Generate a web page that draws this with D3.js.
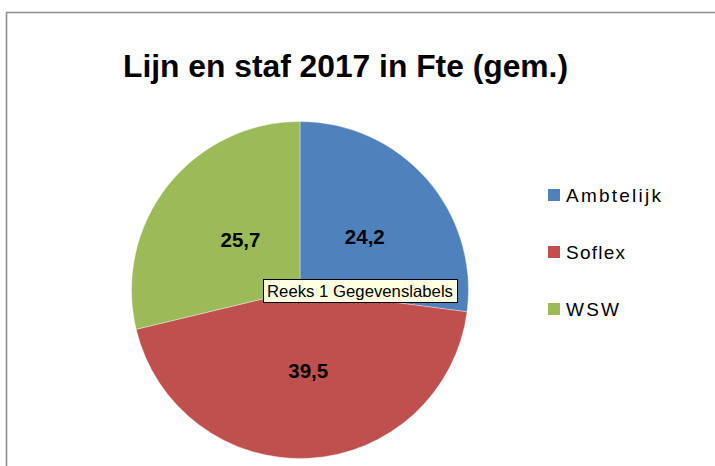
<!DOCTYPE html>
<html>
<head>
<meta charset="utf-8">
<script src="https://cdn.jsdelivr.net/npm/d3@7"></script>
<style>
  html, body { margin: 0; padding: 0; background: #fff; }
  svg { display: block; }
</style>
</head>
<body>
<svg id="chart" width="715" height="466"></svg>
<script>
const categories = ["Ambtelijk", "Soflex", "WSW"];
const values = [24.2, 39.5, 25.7];
const valueLabels = ["24,2", "39,5", "25,7"];
const colors = ["#4f81bd", "#c0504d", "#9bbb59"];
const title = "Lijn en staf 2017 in Fte (gem.)";
const tooltipText = "Reeks 1 Gegevenslabels";

const W = 715, H = 466;
const svg = d3.select("#chart");

// outer chart border (top + left visible)
svg.append("path")
  .attr("d", `M6.5,${H} L6.5,12.5 L${W},12.5`)
  .attr("fill", "none")
  .attr("stroke", "#8c8c8c")
  .attr("stroke-width", 1.6);

// title
svg.append("text")
  .attr("x", 123).attr("y", 77)
  .attr("textLength", 445)
  .attr("lengthAdjust", "spacingAndGlyphs")
  .attr("font-family", "Liberation Sans, Arial, sans-serif")
  .attr("font-weight", "bold")
  .attr("font-size", 31)
  .attr("fill", "#000")
  .text(title);

// pie
const cx = 300, cy = 290, R = 168.5;
const data = categories.map((c, i) => ({ cat: c, value: values[i], label: valueLabels[i], color: colors[i] }));
const pie = d3.pie().sort(null).value(d => d.value).startAngle(0).endAngle(2 * Math.PI);
const arcs = pie(data);
const arc = d3.arc().innerRadius(0).outerRadius(R);
const labelArc = d3.arc().innerRadius(R * 0.48).outerRadius(R * 0.48);

const g = svg.append("g").attr("transform", `translate(${cx},${cy})`);
g.selectAll("path.slice")
  .data(arcs)
  .join("path")
  .attr("class", "slice")
  .attr("d", arc)
  .attr("fill", d => d.data.color)
  .attr("stroke", "rgba(255,255,255,0.45)")
  .attr("stroke-width", 0.8);

g.selectAll("text.val")
  .data(arcs)
  .join("text")
  .attr("class", "val")
  .attr("x", d => labelArc.centroid(d)[0] + 4)
  .attr("y", d => labelArc.centroid(d)[1] + 7)
  .attr("text-anchor", "middle")
  .attr("font-family", "Liberation Sans, Arial, sans-serif")
  .attr("font-weight", "bold")
  .attr("font-size", 20.5)
  .attr("fill", "#000")
  .text(d => d.data.label);

// legend
const legY = d3.scalePoint().domain(categories).range([195, 309]);
const leg = svg.append("g");
leg.selectAll("rect")
  .data(data)
  .join("rect")
  .attr("x", 548)
  .attr("y", d => legY(d.cat) - 6)
  .attr("width", 12)
  .attr("height", 12)
  .attr("fill", d => d.color);
const legWidths = { "Ambtelijk": 95, "Soflex": 59, "WSW": 53 };
leg.selectAll("text")
  .data(data)
  .join("text")
  .attr("x", 566)
  .attr("y", d => legY(d.cat) + 7)
  .attr("textLength", d => legWidths[d.cat])
  .attr("lengthAdjust", "spacing")
  .attr("font-family", "Liberation Sans, Arial, sans-serif")
  .attr("font-size", 19)
  .attr("fill", "#000")
  .text(d => d.cat);

// tooltip box
const tip = svg.append("g");
tip.append("rect")
  .attr("x", 263.5).attr("y", 279.5)
  .attr("width", 194).attr("height", 23)
  .attr("fill", "#ffffe1")
  .attr("stroke", "#000")
  .attr("stroke-width", 1);
tip.append("text")
  .attr("x", 267).attr("y", 297)
  .attr("textLength", 186)
  .attr("lengthAdjust", "spacingAndGlyphs")
  .attr("font-family", "Liberation Sans, Arial, sans-serif")
  .attr("font-size", 16.5)
  .attr("fill", "#000")
  .text(tooltipText);
</script>
</body>
</html>
